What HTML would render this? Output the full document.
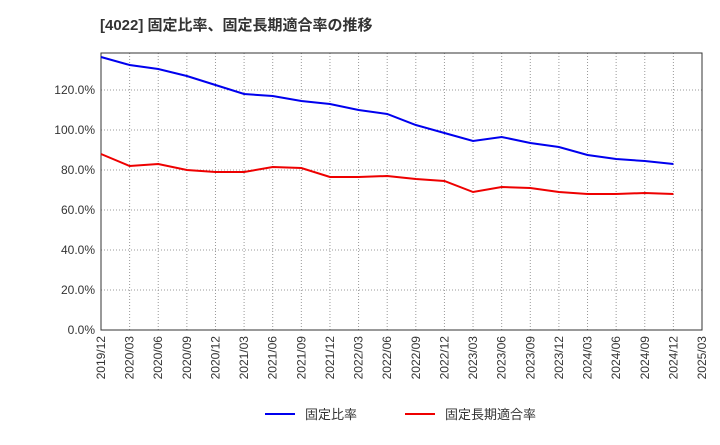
<!DOCTYPE html>
<html><head><meta charset="utf-8"><style>
body{margin:0;background:#fff;}
svg text{font-family:"Liberation Sans","Noto Sans CJK JP",sans-serif;}
</style></head><body>
<svg id="chart" width="720" height="440" xmlns="http://www.w3.org/2000/svg">
<text x="100" y="30" font-size="15" font-weight="bold" fill="#333">[4022]  固定比率、固定長期適合率の推移</text>
<g id="grid"></g><g id="axes"></g><g id="series"></g>
<g>
<line x1="265" y1="414" x2="295" y2="414" stroke="#0000ee" stroke-width="2"/>
<text x="305" y="419" font-size="13" fill="#333">固定比率</text>
<line x1="405" y1="414" x2="435" y2="414" stroke="#ee0000" stroke-width="2"/>
<text x="445" y="419" font-size="13" fill="#333">固定長期適合率</text>
</g>
</svg>
<script>
const categories=["2019/12","2020/03","2020/06","2020/09","2020/12","2021/03","2021/06","2021/09","2021/12","2022/03","2022/06","2022/09","2022/12","2023/03","2023/06","2023/09","2023/12","2024/03","2024/06","2024/09","2024/12","2025/03"];
const fixedRatio=[136.5,132.5,130.5,127,122.5,118,117,114.5,113,110,108,102.5,98.5,94.5,96.5,93.5,91.5,87.5,85.5,84.5,83];
const fixedLongTermRatio=[88,82,83,80,79,79,81.5,81,76.5,76.5,77,75.5,74.5,69,71.5,71,69,68,68,68.5,68];
const yTicks=[0,20,40,60,80,100,120];
const L=101,R=702,T=53,B=330,YMAX=138.5;
const ns="http://www.w3.org/2000/svg";
const x=i=>L+(R-L)*i/(categories.length-1);
const y=v=>B-(B-T)*v/YMAX;
function mk(tag,attrs,parent){const e=document.createElementNS(ns,tag);for(const k in attrs)e.setAttribute(k,attrs[k]);document.getElementById(parent).appendChild(e);return e;}
yTicks.forEach(v=>{
 const g=mk("line",{x1:L,x2:R,y1:y(v),y2:y(v),stroke:"#999","stroke-dasharray":"1,2"},"grid");
 
 
 const t=mk("text",{x:L-6,y:y(v)+4,"text-anchor":"end","font-size":"12",fill:"#333"},"axes");
 t.textContent=v.toFixed(1)+"%";
 
 
});
categories.forEach((c,i)=>{
 const g=mk("line",{x1:x(i),x2:x(i),y1:T,y2:B,stroke:"#999","stroke-dasharray":"1,2"},"grid");
 
 
 const t=mk("text",{x:0,y:0,"text-anchor":"end","font-size":"12",fill:"#333",transform:`translate(${x(i)+4},${B+6}) rotate(-90)`},"axes");
 t.textContent=c;
 
 
});
const frame=mk("rect",{x:L,y:T,width:R-L,height:B-T,fill:"none",stroke:"#333"},"axes");


function line(data,color,name){
 const p=mk("polyline",{points:data.map((v,i)=>x(i)+","+y(v)).join(" "),fill:"none",stroke:color,"stroke-width":"2"},"series");
 
 
}
line(fixedRatio,"#0000ee","fixed-ratio-line");
line(fixedLongTermRatio,"#ee0000","fixed-long-term-ratio-line");
</script>
</body></html>
